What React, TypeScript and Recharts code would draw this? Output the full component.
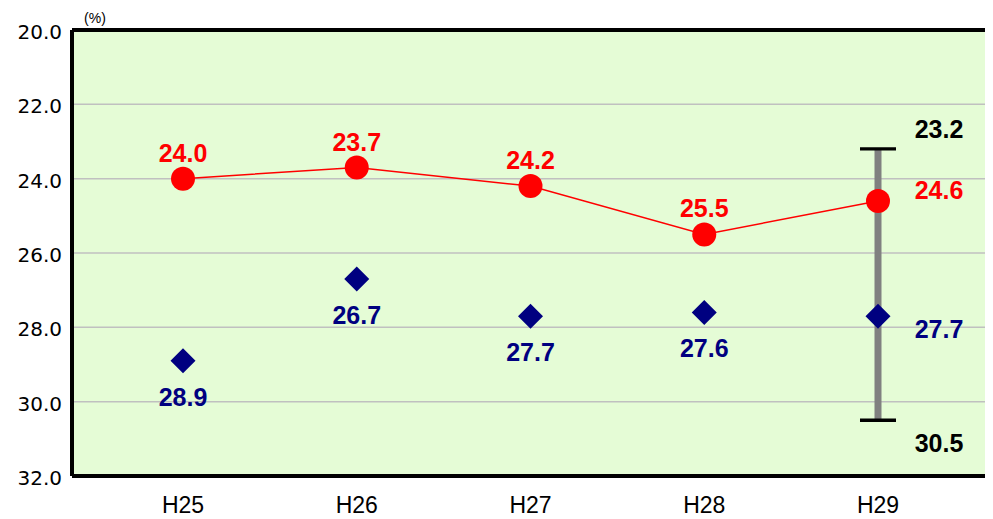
import { LineChart, Line, XAxis, YAxis, CartesianGrid, LabelList, ErrorBar } from 'recharts'

const years = ['H25', 'H26', 'H27', 'H28', 'H29']
const redValues = [24.0, 23.7, 24.2, 25.5, 24.6]
const blueValues = [28.9, 26.7, 27.7, 27.6, 27.7]
const rangeHigh: (number | null)[] = [null, null, null, null, 23.2]
const rangeLow: (number | null)[] = [null, null, null, null, 30.5]
const yTicks = [20, 22, 24, 26, 28, 30, 32]

const data = years.map((year, i) => ({
  year,
  red: redValues[i],
  blue: blueValues[i],
  hi: rangeHigh[i],
  lo: rangeLow[i],
  // error bar spans from the high value down to the low value
  span: rangeHigh[i] != null && rangeLow[i] != null ? [0, (rangeLow[i] as number) - (rangeHigh[i] as number)] : undefined,
}))

const LAST = years.length - 1
const labelFont = { fontFamily: 'Liberation Sans, Arial, sans-serif', fontWeight: 700, fontSize: 25 }
const xPadding = { left: 111, right: 110 }

const makeLabel = (color: string, normalDy: number, lastDy: number) => (props: any) => {
  const { x, y, value, index } = props
  if (value == null || x == null || y == null) return null
  const last = index === LAST
  return (
    <text
      x={last ? x + 61 : x}
      y={y + (last ? lastDy : normalDy)}
      textAnchor='middle'
      fill={color}
      {...labelFont}
    >
      {Number(value).toFixed(1)}
    </text>
  )
}

const Diamond = (props: any) => {
  const { cx, cy, index } = props
  if (cx == null || cy == null) return <g key={`d-${index}`} />
  const s = 12.5
  return (
    <polygon
      key={`d-${index}`}
      points={`${cx},${cy - s} ${cx + s},${cy} ${cx},${cy + s} ${cx - s},${cy}`}
      fill='#000080'
    />
  )
}

const Cap = (props: any) => {
  const { cx, cy, index, value } = props
  if (cx == null || cy == null || value == null) return <g key={`c-${index}`} />
  return <line key={`c-${index}`} x1={cx - 18} x2={cx + 18} y1={cy} y2={cy} stroke='#000' strokeWidth={3.3} />
}

const PercentLabel = (props: any) => {
  const vb = props.viewBox || {}
  return (
    <text x={vb.x + vb.width + 23} y={vb.y - 7} textAnchor='middle' fontSize={14} fill='#000' fontFamily='Liberation Sans, Arial, sans-serif'>
      (%)
    </text>
  )
}

export default function App() {
  const axisLine = { stroke: '#000', strokeWidth: 4 }
  return (
    <LineChart width={985} height={511} data={data} margin={{ top: 21, right: 4, bottom: 0, left: 0 }}>
      <CartesianGrid vertical={false} stroke='#c0c0c0' strokeWidth={1.5} fill='#e5fcd6' />
      <XAxis
        dataKey='year'
        height={43}
        padding={xPadding}
        tickLine={false}
        tickSize={0}
        tickMargin={21}
        axisLine={axisLine}
        tick={{ fill: '#000', fontSize: 23, fontFamily: 'Liberation Sans, Arial, sans-serif' }}
      />
      <XAxis
        xAxisId='top'
        dataKey='year'
        orientation='top'
        height={1}
        padding={xPadding}
        tick={false}
        tickLine={false}
        axisLine={axisLine}
      />
      <YAxis
        reversed
        domain={[20, 32]}
        ticks={yTicks}
        width={64}
        tickLine={false}
        tickSize={0}
        tickMargin={10}
        axisLine={axisLine}
        interval={0}
        tickFormatter={(v: number) => v.toFixed(1)}
        tick={{ fill: '#000', fontSize: 20, fontFamily: 'DejaVu Sans, sans-serif', dy: 2 }}
        label={{ content: <PercentLabel /> }}
      />
      <YAxis
        yAxisId='right'
        orientation='right'
        reversed
        domain={[20, 32]}
        width={1}
        tick={false}
        tickLine={false}
        axisLine={axisLine}
      />
      <Line xAxisId='top' yAxisId='right' dataKey='hi' stroke='none' dot={Cap} activeDot={false} isAnimationActive={false}>
        <ErrorBar dataKey='span' direction='y' width={0} stroke='#808080' strokeWidth={7} />
        <LabelList dataKey='hi' content={makeLabel('#000', -11.4, -11.4)} />
      </Line>
      <Line xAxisId='top' yAxisId='right' dataKey='lo' stroke='none' dot={Cap} activeDot={false} isAnimationActive={false}>
        <LabelList dataKey='lo' content={makeLabel('#000', 31.6, 31.6)} />
      </Line>
      <Line dataKey='red' stroke='#ff0000' strokeWidth={1.5} dot={{ r: 12, fill: '#ff0000', stroke: 'none' }} activeDot={false} isAnimationActive={false}>
        <LabelList dataKey='red' content={makeLabel('#ff0000', -17, -2.4)} />
      </Line>
      <Line dataKey='blue' stroke='none' dot={Diamond} activeDot={false} isAnimationActive={false}>
        <LabelList dataKey='blue' content={makeLabel('#000080', 45, 21.6)} />
      </Line>
    </LineChart>
  )
}
